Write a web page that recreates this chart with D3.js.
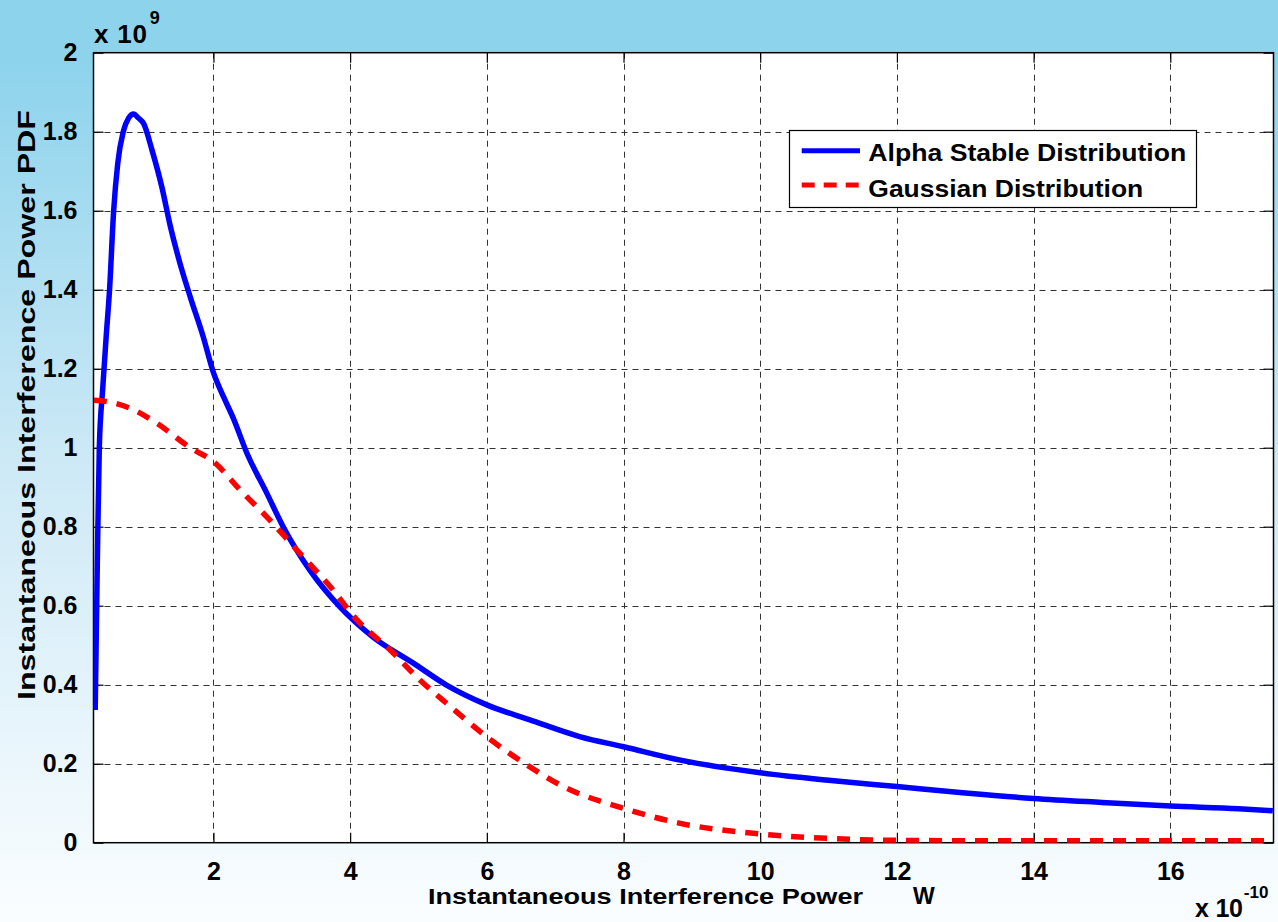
<!DOCTYPE html>
<html>
<head>
<meta charset="utf-8">
<script src="https://cdn.jsdelivr.net/npm/d3@7"></script>
<style>
  html, body { margin: 0; padding: 0; }
  svg { display: block; font-family: "Liberation Sans", Arial, sans-serif; font-weight: bold; }
</style>
</head>
<body>
<div class="chart"></div>
<script>
// power in units of 1e-10 W, pdf in units of 1e9
var alphaX = [0.27, 0.30, 0.33, 0.38, 0.43, 0.48, 0.54, 0.60, 0.68, 0.76, 0.83, 0.90, 0.98, 1.10, 1.245, 1.37, 1.51, 1.66, 1.85, 2.0, 2.15, 2.29, 2.49, 2.78, 3.02, 3.41, 3.85, 4.34, 4.93, 5.41, 6.0, 6.63, 7.37, 8.0, 8.83, 10.0, 11.0, 12.0, 13.0, 14.0, 15.0, 16.0, 17.0, 17.5];
var alphaY = [0.336, 0.70, 1.0, 1.15, 1.28, 1.40, 1.60, 1.72, 1.80, 1.835, 1.845, 1.835, 1.82, 1.754, 1.66, 1.56, 1.467, 1.382, 1.281, 1.19, 1.128, 1.075, 0.986, 0.885, 0.80, 0.69, 0.597, 0.52, 0.454, 0.399, 0.349, 0.311, 0.268, 0.243, 0.209, 0.177, 0.158, 0.142, 0.126, 0.112, 0.102, 0.093, 0.086, 0.081];
var gaussX = [0.25, 0.5, 0.78, 1.17, 1.66, 2.0, 2.39, 2.78, 3.22, 3.71, 4.1, 4.585, 5.02, 5.41, 6.0, 6.63, 7.12, 8.0, 8.83, 10.0, 10.97, 11.95, 13.0, 14.0, 15.0, 16.0, 17.5];
var gaussY = [1.12, 1.115, 1.10, 1.062, 1.0, 0.965, 0.893, 0.825, 0.741, 0.648, 0.564, 0.488, 0.412, 0.353, 0.268, 0.192, 0.142, 0.087, 0.049, 0.022, 0.011, 0.006, 0.005, 0.005, 0.005, 0.005, 0.005];
var xTicks = [2, 4, 6, 8, 10, 12, 14, 16];
var yTicks = [0, 0.2, 0.4, 0.6, 0.8, 1, 1.2, 1.4, 1.6, 1.8, 2];
var seriesNames = ['Alpha Stable Distribution', 'Gaussian Distribution'];

var width = 1278, height = 922;
var pLeft = 93.5, pRight = 1273.5, pTop = 52.7, pBottom = 842.7;

var x = d3.scaleLinear().domain([0.245, 17.51]).range([pLeft, pRight]);
var y = d3.scaleLinear().domain([0, 2]).range([pBottom, pTop]);

var svg = d3.select('.chart').append('svg').attr('width', width).attr('height', height);
var defs = svg.append('defs');
var grad = defs.append('linearGradient').attr('id', 'bg').attr('gradientUnits', 'userSpaceOnUse')
    .attr('x1', 0).attr('y1', 0).attr('x2', 0).attr('y2', height);
grad.append('stop').attr('offset', 0).attr('stop-color', '#8dd3ec');
grad.append('stop').attr('offset', 0.065).attr('stop-color', '#8dd3ec');
grad.append('stop').attr('offset', 0.5).attr('stop-color', '#cde9f6');
grad.append('stop').attr('offset', 1).attr('stop-color', '#fafdff');
defs.append('clipPath').attr('id', 'clip').append('rect')
    .attr('x', pLeft).attr('y', pTop).attr('width', pRight - pLeft).attr('height', pBottom - pTop);

svg.append('rect').attr('width', width).attr('height', height).attr('fill', 'url(#bg)');
svg.append('rect').attr('x', pLeft).attr('y', pTop).attr('width', pRight - pLeft).attr('height', pBottom - pTop).attr('fill', '#fff');

// grid
var grid = svg.append('g').attr('stroke', '#333').attr('stroke-width', 1).attr('stroke-dasharray', '6,5');
grid.selectAll('.gx').data(xTicks).enter().append('line')
    .attr('x1', function(d) { return Math.round(x(d)) + 0.5; }).attr('x2', function(d) { return Math.round(x(d)) + 0.5; })
    .attr('y1', pTop).attr('y2', pBottom);
grid.selectAll('.gy').data(yTicks.slice(1, -1)).enter().append('line')
    .attr('y1', function(d) { return Math.round(y(d)) + 0.5; }).attr('y2', function(d) { return Math.round(y(d)) + 0.5; })
    .attr('x1', pLeft).attr('x2', pRight);

// axes with inward ticks on all four sides
var tickLen = 10;
var fmt = function(d) { return d3.format('~g')(d); };
var xAxis = svg.append('g').attr('transform', 'translate(0,' + pBottom + ')')
    .call(d3.axisBottom(x).tickValues(xTicks).tickSizeInner(-tickLen).tickSizeOuter(0).tickPadding(20).tickFormat(fmt));
svg.append('g').attr('transform', 'translate(0,' + pTop + ')')
    .call(d3.axisTop(x).tickValues(xTicks).tickSizeInner(-tickLen).tickSizeOuter(0).tickFormat(''));
var yAxis = svg.append('g').attr('transform', 'translate(' + pLeft + ',0)')
    .call(d3.axisLeft(y).tickValues(yTicks).tickSizeInner(-tickLen).tickSizeOuter(0).tickPadding(16).tickFormat(fmt));
svg.append('g').attr('transform', 'translate(' + pRight + ',0)')
    .call(d3.axisRight(y).tickValues(yTicks).tickSizeInner(-tickLen).tickSizeOuter(0).tickFormat(''));
svg.selectAll('.domain').remove();
svg.selectAll('.tick line').attr('stroke', '#000').attr('stroke-width', 1.2);
svg.selectAll('.tick text').attr('fill', '#000').style('font-size', '25px').style('font-weight', 'bold')
    .style('font-family', '"Liberation Sans", Arial, sans-serif');
xAxis.selectAll('.tick text').attr('dy', '0.71em');

// box
svg.append('rect').attr('x', pLeft).attr('y', pTop).attr('width', pRight - pLeft).attr('height', pBottom - pTop)
    .attr('fill', 'none').attr('stroke', '#000').attr('stroke-width', 1.5);

// curves
var alphaData = alphaX.map(function(d, i) { return [d, alphaY[i]]; });
var gaussData = gaussX.map(function(d, i) { return [d, gaussY[i]]; });
var line = d3.line().curve(d3.curveMonotoneX).x(function(d) { return x(d[0]); }).y(function(d) { return y(d[1]); });
var plot = svg.append('g').attr('clip-path', 'url(#clip)');
plot.append('path').datum(alphaData).attr('d', line).attr('fill', 'none')
    .attr('stroke', '#0000ff').attr('stroke-width', 5.5).attr('stroke-linejoin', 'round');
plot.append('path').datum(gaussData).attr('d', line).attr('fill', 'none')
    .attr('stroke', '#ff0000').attr('stroke-width', 5.5).attr('stroke-dasharray', '13,10');

// exponent labels
var e1 = svg.append('text').attr('x', 94).attr('y', 43).style('font-size', '26px');
e1.append('tspan').attr('textLength', 53).text('x 10');
e1.append('tspan').attr('dy', -19).attr('dx', 2).style('font-size', '18px').text('9');
var e2 = svg.append('text').attr('x', 1195).attr('y', 917).style('font-size', '25px');
e2.append('tspan').attr('textLength', 48).text('x 10');
e2.append('tspan').attr('dy', -19).attr('dx', 1).style('font-size', '17px').text('-10');

// axis labels
var xl = svg.append('text').attr('y', 904).style('font-size', '22px');
xl.append('tspan').attr('x', 428).attr('textLength', 435).attr('lengthAdjust', 'spacingAndGlyphs').text('Instantaneous Interference Power');
xl.append('tspan').attr('x', 913).style('font-size', '23px').text('W');
svg.append('text').attr('transform', 'translate(35,405) rotate(-90)').attr('text-anchor', 'middle')
    .style('font-size', '24px').attr('textLength', 590).attr('lengthAdjust', 'spacingAndGlyphs')
    .text('Instantaneous Interference Power PDF');

// legend
var legend = svg.append('g');
legend.append('rect').attr('x', 789.5).attr('y', 130.5).attr('width', 407).attr('height', 77)
    .attr('fill', '#fff').attr('stroke', '#000').attr('stroke-width', 1.2);
var legendStyles = [{ color: '#0000ff', dash: null, ly: 150.7, ty: 160.5 }, { color: '#ff0000', dash: '13,9', ly: 185, ty: 196.7 }];
var lenText = [318, 275];
legend.selectAll('.li').data(seriesNames).enter().append('line')
    .attr('x1', 801.7).attr('x2', 860)
    .attr('y1', function(d, i) { return legendStyles[i].ly; }).attr('y2', function(d, i) { return legendStyles[i].ly; })
    .attr('stroke', function(d, i) { return legendStyles[i].color; })
    .attr('stroke-dasharray', function(d, i) { return legendStyles[i].dash; })
    .attr('stroke-width', 5);
legend.selectAll('.lt').data(seriesNames).enter().append('text')
    .attr('x', 868.3).attr('y', function(d, i) { return legendStyles[i].ty; })
    .style('font-size', '23px')
    .attr('textLength', function(d, i) { return lenText[i]; }).attr('lengthAdjust', 'spacingAndGlyphs')
    .text(function(d) { return d; });
</script>
</body>
</html>
